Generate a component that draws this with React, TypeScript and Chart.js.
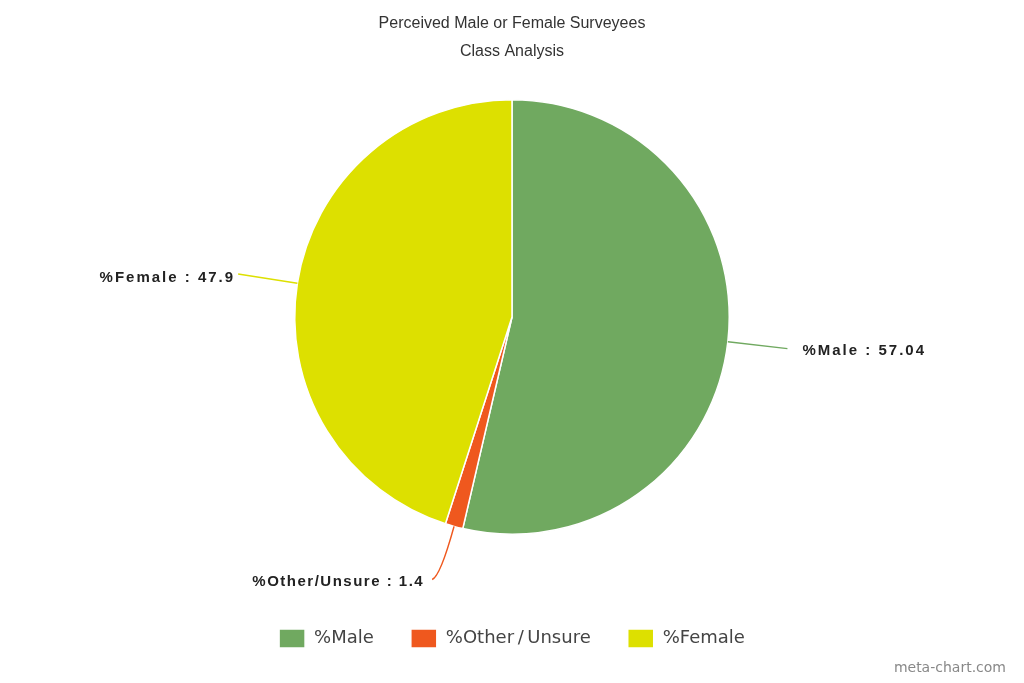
import React, { useEffect, useRef } from "react";
import { Chart, registerables } from "chart.js";

Chart.register(...registerables);

const titleLines = ["Perceived Male or Female Surveyees", "Class Analysis"];
const categories = ["%Male", "%Other/Unsure", "%Female"];
const values = [57.04, 1.4, 47.9];
const colors = ["#70a960", "#ef581e", "#dde000"];

const labelPlugin = {
  id: "leaderLabels",
  afterDatasetsDraw(chart: any) {
    const ctx = chart.ctx;
    const meta = chart.getDatasetMeta(0);
    const ext = [60, 52, 60];
    meta.data.forEach((arc: any, i: number) => {
      const p = arc.getProps(["x", "y", "startAngle", "endAngle", "outerRadius"], true);
      const mid = (p.startAngle + p.endAngle) / 2;
      const c = Math.cos(mid), s = Math.sin(mid);
      const sx = p.x + c * p.outerRadius;
      const sy = p.y + s * p.outerRadius;
      const L = ext[i];
      const cx = p.x + c * (p.outerRadius + L);
      const cy = p.y + s * (p.outerRadius + L);
      const dir = c >= 0 ? 1 : -1;
      const vertical = Math.abs(s) > 0.8;
      ctx.save();
      ctx.strokeStyle = colors[i];
      ctx.lineWidth = 1.5;
      ctx.beginPath();
      ctx.moveTo(sx, sy);
      let tx: number, ty: number;
      if (vertical) {
        const ex = cx + dir * 8;
        const ey = cy + 3;
        ctx.quadraticCurveTo(cx, cy, ex, ey);
        tx = ex + dir * 8;
        ty = ey + 2;
      } else {
        ctx.lineTo(cx, cy);
        tx = cx + (dir > 0 ? 15 : -3);
        ty = cy + (s < 0 ? 4 : 2);
      }
      ctx.stroke();
      ctx.font = "bold 15px 'Liberation Sans', Arial, sans-serif";
      (ctx as any).letterSpacing = vertical ? "1.5px" : "2px";
      ctx.fillStyle = "#222";
      ctx.textBaseline = "middle";
      ctx.textAlign = dir > 0 ? "left" : "right";
      ctx.fillText(categories[i] + " : " + values[i], tx, ty);
      ctx.restore();
    });
  },
  afterDraw(chart: any) {
    const ctx = chart.ctx;
    ctx.save();
    ctx.font = "14px 'DejaVu Sans', sans-serif";
    ctx.fillStyle = "#888";
    ctx.textAlign = "right";
    ctx.textBaseline = "middle";
    ctx.fillText("meta-chart.com", 1006, 668);
    ctx.restore();
  },
};

export default function App() {
  const ref = useRef<HTMLCanvasElement>(null);
  useEffect(() => {
    document.body.style.margin = "0";
    const baseGen = (Chart as any).overrides.pie.plugins.legend.labels.generateLabels;
    const chart = new Chart(ref.current!, {
      type: "pie",
      data: {
        labels: categories,
        datasets: [
          {
            data: values,
            backgroundColor: colors,
            borderColor: "#ffffff",
            borderWidth: 1.5,
          },
        ],
      },
      options: {
        animation: false,
        responsive: false,
        maintainAspectRatio: false,
        layout: { padding: { top: 0, bottom: 25, left: 0, right: 0 } },
        plugins: {
          title: {
            display: true,
            text: titleLines,
            color: "#333",
            font: { family: "'Liberation Sans', Arial, sans-serif", size: 16, weight: "normal", lineHeight: 1.75 },
            padding: { top: 10, bottom: 33 },
          },
          legend: {
            position: "bottom",
            title: {
              display: true,
              text: "",
              font: { size: 1, lineHeight: 1 },
              padding: { top: 56, bottom: 0 },
            },
            labels: {
              boxWidth: 26,
              boxHeight: 19,
              padding: 37,
              color: "#444",
              font: { family: "'DejaVu Sans', sans-serif", size: 18 },
              generateLabels: (ch: any) =>
                baseGen(ch).map((l: any) => ({ ...l, text: String(l.text).replace("/", "\u2009/\u2009") })),
            },
          },
          tooltip: { enabled: false },
        },
      },
      plugins: [labelPlugin],
    });
    return () => chart.destroy();
  }, []);
  return (
    <div style={{ position: "absolute", left: 0, top: 0, width: 1024, height: 683, background: "#fff" }}>
      <canvas ref={ref} width={1024} height={683} />
    </div>
  );
}
